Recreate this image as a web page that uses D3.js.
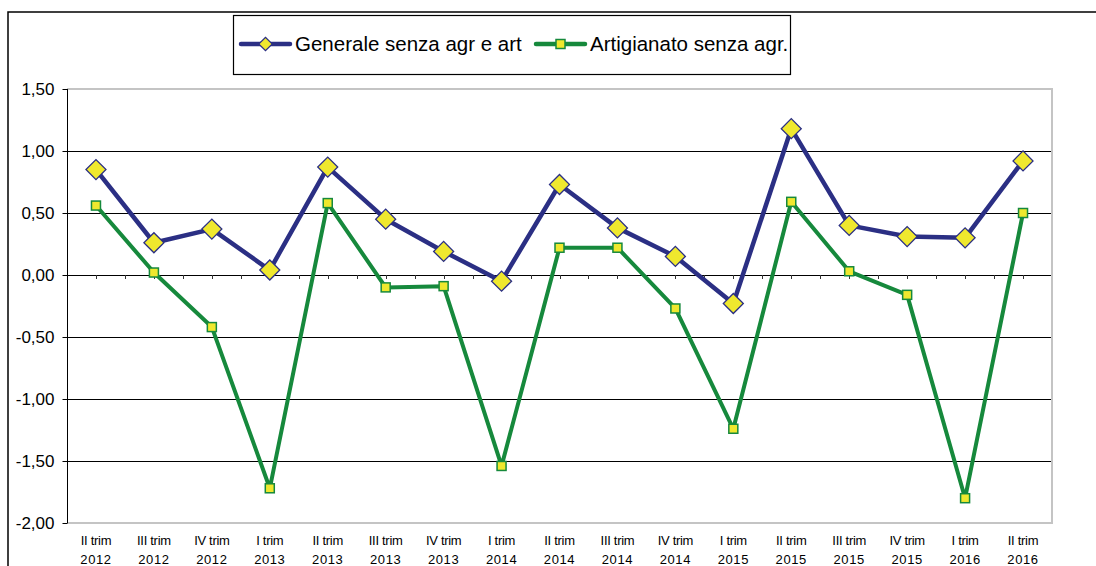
<!DOCTYPE html>
<html><head><meta charset="utf-8">
<script src="https://cdn.jsdelivr.net/npm/d3@7/dist/d3.min.js"></script>
<style>html,body{margin:0;padding:0;background:#fff;}svg{display:block;}</style>
</head><body>
<svg id="c" width="1096" height="566"></svg>
<script>
const quarters = ["II trim","III trim","IV trim","I trim","II trim","III trim","IV trim","I trim","II trim","III trim","IV trim","I trim","II trim","III trim","IV trim","I trim","II trim"];
const years = ["2012","2012","2012","2013","2013","2013","2013","2014","2014","2014","2014","2015","2015","2015","2015","2016","2016"];
const generale = [0.85,0.26,0.37,0.04,0.87,0.45,0.19,-0.05,0.73,0.38,0.15,-0.23,1.18,0.40,0.31,0.30,0.92];
const artigianato = [0.56,0.02,-0.42,-1.72,0.58,-0.10,-0.09,-1.54,0.22,0.22,-0.27,-1.24,0.59,0.03,-0.16,-1.80,0.50];
const yTicks = [1.5,1.0,0.5,0,-0.5,-1.0,-1.5,-2.0];
const seriesNames = ["Generale senza agr e art","Artigianato senza agr."];

const svg = d3.select("#c");
const L = 67, R = 1052, T = 89, B = 523;
const idx = d3.range(quarters.length);
const x = d3.scaleBand().domain(idx).range([L, R]).paddingInner(0).paddingOuter(0);
const cx = i => x(i) + x.bandwidth()/2;
const y = d3.scaleLinear().domain([-2, 1.5]).range([B, T]);
const fmt = v => d3.format(".2f")(v).replace(".", ",").replace("−","-");

// outer border
svg.append("path").attr("d", `M8,${566+5} L8,12 L${1096+5},12`).attr("fill","none").attr("stroke","#000").attr("stroke-width",1.5);

// gridlines
svg.append("g").selectAll("line").data(yTicks.filter(v => v > -2 && v < 1.5)).join("line")
  .attr("x1", L).attr("x2", R).attr("y1", d => Math.round(y(d))+0.5).attr("y2", d => Math.round(y(d))+0.5)
  .attr("stroke", "#000").attr("stroke-width", 1);

// plot area border (gray)
svg.append("path").attr("d", `M${L},${T} L${R},${T} L${R},${B} L${L},${B}`)
  .attr("fill","none").attr("stroke","#c4c4c4").attr("stroke-width",2);

// y axis
const yAxis = d3.axisLeft(y).tickValues(yTicks).tickSize(5).tickPadding(8).tickFormat(fmt);
const ya = svg.append("g").attr("transform", `translate(${L+0.5},0)`).call(yAxis);
ya.select(".domain").attr("stroke","#000").attr("d", `M0,${T}V${B}`);
ya.selectAll(".tick line").attr("stroke","#000");
ya.selectAll(".tick text").attr("font-family","Liberation Sans, Arial, sans-serif").attr("font-size","17px").attr("fill","#000");

// x axis ticks at zero line (centers and boundaries)
const halfTicks = [];
for (let i = 0; i <= quarters.length; i++) { halfTicks.push(x(i) !== undefined ? x(i) : R); if (i < quarters.length) halfTicks.push(cx(i)); }
svg.append("g").selectAll("line").data(halfTicks.filter(v => v > L+1 && v < R-1)).join("line")
  .attr("x1", d => Math.round(d)+0.5).attr("x2", d => Math.round(d)+0.5)
  .attr("y1", y(0)).attr("y2", y(0)+4).attr("stroke","#333").attr("stroke-width",1);

// x labels
const xl = svg.append("g").attr("font-family","Liberation Sans, Arial, sans-serif").attr("font-size","13px").attr("fill","#000").attr("text-anchor","middle");
xl.selectAll("text.q").data(idx).join("text").attr("class","q")
  .attr("x", d => cx(d)).attr("y", 545).attr("letter-spacing","-0.3px").text(d => quarters[d]);
xl.selectAll("text.yr").data(idx).join("text").attr("class","yr")
  .attr("x", d => cx(d)).attr("y", 564).attr("letter-spacing","0.6px").text(d => years[d]);

const blue = "#2b2f84", green = "#16893c", yellow = "#efe82e";
const line = d3.line().x((d,i) => cx(i)).y(d => y(d));

// series 1
svg.append("path").datum(generale).attr("d", line).attr("fill","none").attr("stroke", blue).attr("stroke-width",4.5).attr("stroke-linejoin","round");
svg.append("g").selectAll("path").data(generale).join("path")
  .attr("transform", (d,i) => `translate(${cx(i)},${y(d)}) rotate(45)`)
  .attr("d", d3.symbol().type(d3.symbolSquare).size(200))
  .attr("fill", yellow).attr("stroke", blue).attr("stroke-width",1.3);

// series 2
svg.append("path").datum(artigianato).attr("d", line).attr("fill","none").attr("stroke", green).attr("stroke-width",4).attr("stroke-linejoin","round");
svg.append("g").selectAll("rect").data(artigianato).join("rect")
  .attr("x", (d,i) => cx(i)-4.5).attr("y", d => y(d)-4.5).attr("width",9).attr("height",9)
  .attr("fill", yellow).attr("stroke", green).attr("stroke-width",1.5);

// legend
const lg = svg.append("g");
lg.append("rect").attr("x",233.5).attr("y",15.5).attr("width",557).attr("height",59).attr("fill","#fff").attr("stroke","#000").attr("stroke-width",1.2);
const items = [{name: seriesNames[0], col: blue, x0: 241, tx: 295, type: "d"}, {name: seriesNames[1], col: green, x0: 536, tx: 590, type: "s"}];
const ly = 44;
items.forEach(it => {
  lg.append("line").attr("x1", it.x0).attr("x2", it.x0+49).attr("y1", ly).attr("y2", ly).attr("stroke", it.col).attr("stroke-width", 4.5).attr("stroke-linecap","round");
  if (it.type === "d") {
    lg.append("path").attr("transform", `translate(${it.x0+24.5},${ly}) rotate(45)`).attr("d", d3.symbol().type(d3.symbolSquare).size(90)).attr("fill", yellow).attr("stroke", it.col).attr("stroke-width",1.2);
  } else {
    lg.append("rect").attr("x", it.x0+24.5-4.5).attr("y", ly-4.5).attr("width",9).attr("height",9).attr("fill", yellow).attr("stroke", it.col).attr("stroke-width",1.5);
  }
  lg.append("text").attr("x", it.tx).attr("y", ly+7).attr("font-family","Liberation Sans, Arial, sans-serif").attr("font-size","20.5px").attr("fill","#000").text(it.name);
});
</script>
</body></html>
